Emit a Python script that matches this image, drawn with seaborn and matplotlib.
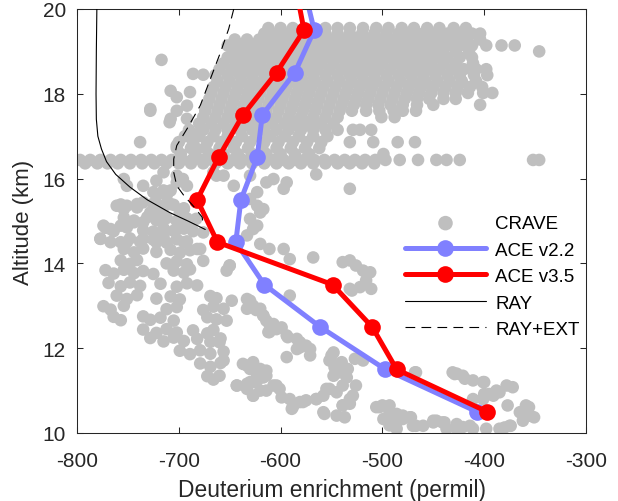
import numpy as np
import pandas as pd
import matplotlib
matplotlib.use("Agg")
import matplotlib.pyplot as plt
import seaborn as sns

# ---------------- data ----------------
ace_alt = [10.5, 11.5, 12.5, 13.5, 14.5, 15.5, 16.5, 17.5, 18.5, 19.5, 20.5]
ace22_x = [-407, -497, -561, -616, -644, -639, -623, -618, -586, -567, -577]
ace35_x = [-397, -486, -510, -549, -662, -682, -661, -637, -604, -577, -585]

ray_alt = [20.0, 19.0, 18.0, 17.4, 17.0, 16.7, 16.4, 16.1, 15.8, 15.5, 15.2, 15.0, 14.8]
ray_x = [-780.5, -781, -781.3, -781, -779.5, -776, -771, -762, -748, -731, -709, -691, -674]

rayext_alt = [20.0, 19.53, 18.98, 18.35, 17.72, 17.17, 16.78, 16.46, 16.15, 15.83, 15.6, 15.36, 15.09, 14.88]
rayext_x = [-646, -651, -659, -669, -679, -692, -702, -705, -705, -702, -695, -686, -677, -676]

# CRAVE: dense rows of the upper band (altitude of row, x positions)
crave_band_alt = [19.55, 19.42, 19.28, 19.14, 19.0, 18.86, 18.72, 18.58, 18.44, 18.3,
                  18.16, 18.02, 17.88, 17.74, 17.6, 17.45, 17.3, 17.15, 17.0, 16.86,
                  16.72, 16.58, 16.44, 16.36]
crave_band_x = [
    [-612, -600, -588, -576, -556, -544, -532, -519, -506, -494, -481, -469, -456, -444, -430, -418],
    [-616, -604, -592, -580, -568, -556, -544, -532, -520, -508, -496, -484, -472, -460, -448, -436, -424, -412, -404],
    [-645, -633, -621, -609, -597, -585, -573, -561, -549, -537, -525, -513, -501, -489, -477, -465, -453, -441, -429, -417, -404],
    [-652, -640, -628, -616, -604, -592, -580, -568, -556, -544, -532, -520, -508, -496, -484, -472, -460, -448, -436, -424, -412, -398, -383, -370],
    [-646, -634, -622, -610, -598, -586, -574, -562, -550, -538, -526, -514, -502, -490, -478, -466, -454, -441, -428, -415, -346],
    [-652, -640, -628, -616, -604, -592, -580, -568, -556, -544, -532, -520, -508, -496, -484, -472, -460, -448, -436, -424, -412],
    [-656, -644, -632, -620, -608, -596, -584, -572, -560, -548, -536, -524, -512, -500, -488, -476, -464, -452, -440, -428, -411],
    [-660, -648, -636, -624, -612, -600, -588, -576, -564, -552, -540, -528, -516, -504, -492, -480, -468, -456, -444, -432, -420, -408, -398],
    [-664, -652, -640, -628, -616, -604, -592, -580, -568, -556, -544, -532, -520, -508, -496, -484, -472, -460, -448, -436, -424, -410, -397],
    [-662, -650, -638, -626, -614, -602, -590, -578, -566, -554, -542, -530, -518, -506, -494, -482, -470, -458, -446, -434, -422, -408],
    [-666, -654, -642, -630, -618, -606, -594, -582, -570, -558, -546, -534, -522, -510, -498, -486, -474, -462, -450, -438, -426, -414, -402],
    [-668, -656, -644, -632, -620, -608, -596, -584, -572, -560, -548, -536, -524, -512, -500, -488, -476, -464, -452, -440, -428, -416, -401, -392],
    [-670, -658, -646, -634, -622, -610, -598, -586, -574, -562, -550, -538, -526, -514, -502, -490, -478, -466, -454, -440, -428],
    [-672, -660, -648, -636, -624, -612, -600, -588, -576, -564, -552, -540, -528, -516, -504, -492, -480, -466, -450, -404],
    [-674, -662, -650, -638, -626, -614, -602, -590, -578, -566, -554, -542, -530, -516, -503, -489, -480, -467],
    [-676, -664, -652, -640, -628, -616, -604, -592, -580, -568, -556, -544, -501, -488],
    [-680, -668, -656, -644, -632, -620, -608, -596, -584, -572, -560, -548],
    [-690, -676, -664, -652, -640, -628, -616, -604, -592, -580, -568, -556, -544, -529, -522, -511],
    [-694, -680, -666, -652, -638, -624, -610, -596, -582, -568, -554],
    [-700, -686, -672, -658, -644, -630, -616, -602, -588, -574, -560, -532, -509, -485, -468],
    [-702, -688, -674, -660, -646, -632, -618, -604, -590, -576, -562],
    [-698, -684, -670, -656, -642, -628, -614, -600, -586, -572, -499],
    [-797, -787, -777, -767, -757, -747, -737, -727, -717, -707, -697, -687, -677, -667, -657, -647, -637, -627,
     -617, -607, -597, -587, -577, -567, -557, -547, -537, -527, -517, -507, -497, -483, -465, -447, -437, -424, -352, -346],
    [-792, -780, -770, -760, -748, -736, -724, -712, -700, -688, -676, -664, -652, -640, -628, -616, -604, -592,
     -580, -568, -556, -544, -532, -520, -508],
]

# CRAVE: individual scattered points (x, altitude)
crave_x = [
    -717, -686, -676, -708, -689, -702, -728, -692, -708, -709, -692, -738, -679, -686, -702, -682, -728, -702,
    -754, -715, -722, -735, -751, -725, -712, -715, -708, -702, -702, -692, -696, -666, -656, -663, -646, -630,
    -623, -630, -623, -614, -607, -594, -597, -617, -620, -630, -627, -633, -757, -751, -761, -754, -741, -735,
    -728, -718, -708, -695, -699, -683, -676, -722, -718, -532, -565,
    -774, -767, -757, -744, -735, -722, -777, -767, -751, -735, -722, -715, -702, -689, -695, -682,
    -757, -741, -725, -715, -705, -695,
    -754, -744, -731, -722, -712, -702, -692,
    -772, -764, -751, -735, -725, -715, -705, -695, -686,
    -777, -757, -748, -738, -725, -712, -702, -692,
    -754, -744, -735, -722, -708, -699, -689,
    -757, -748, -741, -712, -702, -692, -676,
    -772, -764, -754, -744, -735, -725, -705, -695, -689,
    -769, -757, -748, -738, -718, -702, -692, -682,
    -761, -751, -741, -722, -708, -699, -669, -663,
    -774, -767, -754, -712, -702, -676, -666, -656,
    -764, -757, -735, -728, -718, -705, -672, -663,
    -735, -722, -712, -702, -686, -672, -666,
    -728, -715, -705, -695, -682, -669, -659,
    -699, -689, -679, -669, -656,
    -679, -669, -659, -672, -666,
    -623, -650, -630, -617, -612, -637, -630, -617, -623, -643, -633, -620, -607, -627,
    -648, -653, -633, -633, -627, -620, -617, -614, -607, -599, -611, -593, -581, -571, -581, -591, -594,
    -660, -656, -660,
    -548, -552, -547, -542, -534, -535, -539, -545, -552, -558, -565, -575, -581, -588, -589, -529, -532,
    -539, -557, -537,
    -633, -627, -620, -614, -617, -627, -633, -643, -627, -614, -601, -599,
    -527, -519, -467, -429, -506, -493, -490, -481, -472, -470, -460, -499, -490, -486, -450, -441, -427,
    -511, -530, -532, -522, -516, -512, -519, -526, -532, -539,
    -620, -611, -597, -591, -568, -679, -653, -650,
    -468, -427, -419, -411, -400, -395, -388, -378, -372, -377, -356, -357, -351, -362, -374, -380,
    -503, -486, -480, -473, -493, -487, -447, -439, -421, -411, -398, -411, -400,
    -558, -545, -532, -539, -526, -500, -493, -486, -480, -467, -450, -437, -431, -421, -401,
    -391, -385, -401, -359, -355, -365, -375, -385, -414, -427,
    -630, -624, -614, -630, -604, -591, -578, -565, -555, -548, -545, -550, -540,
    -630, -624, -611, -604, -594, -584, -575, -571, -584,
]
crave_y = [
    18.8, 18.47, 18.45, 18.07, 18.04, 17.92, 17.64, 17.72, 17.41, 17.33, 17.41, 16.86, 17.1, 17.01, 16.78, 16.7, 17.6, 17.6,
    15.99, 16.15, 15.95, 15.83, 15.83, 15.68, 15.6, 15.72, 15.72, 15.91, 16.07, 15.83, 15.99, 16.15, 16.07, 16.07, 15.83, 16.07,
    15.68, 15.52, 15.36, 15.91, 15.99, 15.91, 15.76, 15.28, 15.2, 15.05, 14.81, 14.66, 15.36, 15.36, 15.36, 15.28, 15.4, 15.44,
    15.2, 15.28, 15.4, 15.28, 15.2, 15.05, 14.73, 15.6, 15.36, 15.76, 16.1,
    14.89, 14.81, 14.89, 14.97, 14.97, 15.13, 14.58, 14.5, 14.5, 14.58, 14.5, 14.66, 14.81, 14.97, 14.5, 14.34,
    15.39, 15.32, 15.41, 15.33, 15.38, 15.3,
    15.08, 15.01, 15.09, 15.02, 15.07, 15.0, 15.06,
    14.84, 14.76, 14.85, 14.78, 14.75, 14.83, 14.77, 14.82, 14.76,
    14.58, 14.5, 14.59, 14.51, 14.56, 14.49, 14.57, 14.52,
    14.34, 14.26, 14.35, 14.27, 14.32, 14.25, 14.31,
    14.07, 13.99, 14.08, 14.0, 14.05, 13.98, 14.06,
    13.84, 13.76, 13.85, 13.77, 13.82, 13.75, 13.83, 13.78, 13.86,
    13.54, 13.46, 13.55, 13.47, 13.52, 13.45, 13.53, 13.48,
    13.24, 13.16, 13.25, 13.17, 13.22, 13.15, 13.23, 13.18,
    12.99, 12.91, 13.0, 12.92, 12.97, 12.9, 12.98, 12.93,
    12.74, 12.66, 12.75, 12.67, 12.72, 12.65, 12.73, 12.68,
    12.44, 12.36, 12.45, 12.37, 12.42, 12.35, 12.43,
    12.24, 12.16, 12.25, 12.17, 12.22, 12.15, 12.23,
    11.94, 11.86, 11.95, 11.87, 11.92,
    11.64, 11.56, 11.65, 11.34, 11.26,
    14.89, 13.95, 13.12, 12.77, 12.38, 11.63, 11.51, 11.43, 11.24, 11.12, 11.04, 11.0, 11.12, 10.88,
    13.12, 12.65, 13.16, 12.93, 13.0, 12.93, 12.77, 12.65, 12.57, 12.49, 12.38, 12.26, 12.14, 11.98, 12.02, 13.24, 11.79,
    12.14, 11.71, 11.35,
    11.9, 11.71, 11.55, 11.43, 11.51, 11.31, 11.12, 10.96, 11.04, 10.88, 10.8, 10.77, 10.73, 10.61, 10.57, 10.88, 10.69,
    10.65, 10.45, 10.37,
    11.59, 11.67, 11.51, 11.47, 11.31, 11.2, 11.16, 11.12, 10.88, 11.0, 11.04, 10.84,
    11.75, 11.71, 11.43, 11.39, 10.61, 10.65, 10.45, 10.37, 10.37, 10.17, 10.17, 10.33, 10.21, 10.1, 10.29, 10.25, 10.21,
    13.4, 13.36, 13.4, 13.44, 13.6, 13.79, 13.83, 13.95, 14.07, 14.03,
    14.46, 14.34, 14.34, 14.1, 14.14, 14.34, 13.83, 13.95,
    11.43, 11.4, 11.28, 11.24, 11.2, 10.92, 11.0, 11.12, 11.08, 10.65, 10.61, 10.41, 10.37, 10.29, 10.17, 10.13,
    10.61, 10.45, 10.33, 10.37, 10.18, 10.14, 10.29, 10.25, 10.14, 10.1, 10.1, 10.8, 10.92,
    10.49, 10.41, 10.8, 10.65, 11.12, 10.65, 10.49, 10.25, 10.41, 10.17, 10.25, 10.1, 11.43, 11.35, 11.2,
    10.88, 10.96, 10.8, 10.65, 10.41, 10.49, 10.17, 10.1, 10.17, 10.1,
    11.59, 11.43, 11.35, 11.2, 11.12, 10.8, 10.73, 10.8, 11.04, 11.35, 11.59, 11.83, 11.67,
    13.0, 12.9, 12.57, 12.45, 12.3, 12.22, 12.06, 11.83, 11.98,
]

x_ticks = [-800, -700, -600, -500, -400, -300]
y_ticks = [10, 12, 14, 16, 18, 20]

# ---------------- style ----------------
sns.set_style("ticks")
plt.rcParams["font.family"] = ["Liberation Sans", "DejaVu Sans"]
plt.rcParams["axes.unicode_minus"] = False
plt.rcParams["lines.scale_dashes"] = False

TXT = "#262626"
GRAY = "#BFBFBF"
BLUE = "#8080FF"
RED = "#FF0000"

fig = plt.figure(figsize=(6.18, 5.02), dpi=100)
ax = fig.add_axes([77 / 618, 68 / 502, 509 / 618, 424 / 502])

bx, by = [], []
for alt, xs in zip(crave_band_alt, crave_band_x):
    bx += xs
    by += [alt] * len(xs)
crave = pd.DataFrame({"x": bx + crave_x, "y": by + crave_y})

sns.scatterplot(data=crave, x="x", y="y", ax=ax, s=82, color=GRAY,
                edgecolor="none", linewidth=0, label="CRAVE", zorder=1)
sns.lineplot(x=ace22_x, y=ace_alt, ax=ax, sort=False, estimator=None, color=BLUE,
             lw=3.6, marker="o", markersize=12, markeredgewidth=0, label="ACE v2.2", zorder=2)
sns.lineplot(x=ace35_x, y=ace_alt, ax=ax, sort=False, estimator=None, color=RED,
             lw=3.6, marker="o", markersize=12, markeredgewidth=0, label="ACE v3.5", zorder=3)
sns.lineplot(x=ray_x, y=ray_alt, ax=ax, sort=False, estimator=None, color="black",
             lw=0.8, label="RAY", zorder=4)
sns.lineplot(x=rayext_x, y=rayext_alt, ax=ax, sort=False, estimator=None, color="black",
             lw=0.8, linestyle=(0, (7, 4.5)), label="RAY+EXT", zorder=4)

ax.set_xlim(-800, -300)
ax.set_ylim(10, 20)
ax.set_xticks(x_ticks)
ax.set_xticklabels([str(v) for v in x_ticks])
ax.set_yticks(y_ticks)
ax.set_yticklabels([str(v) for v in y_ticks])
ax.tick_params(direction="in", top=True, right=True, length=4, width=0.75,
               colors=TXT, labelsize=15)
ax.tick_params(axis="x", pad=13)
ax.tick_params(axis="y", pad=8)
for sp in ax.spines.values():
    sp.set_visible(True)
    sp.set_linewidth(0.75)
    sp.set_color(TXT)

ax.set_xlabel("Deuterium enrichment (permil)", fontsize=16.4, color=TXT, labelpad=6)
ax.set_ylabel("Altitude (km)", fontsize=16, color=TXT, labelpad=6)

leg = ax.legend(loc="upper left", bbox_to_anchor=(0.63, 0.532), frameon=False,
                fontsize=13.5, handlelength=4.3, handletextpad=0.5, labelspacing=0.5,
                borderaxespad=0)
leg.legend_handles[0].set_sizes([110])
for t in leg.get_texts():
    t.set_color("black")

fig.savefig("out.png", dpi=100)
